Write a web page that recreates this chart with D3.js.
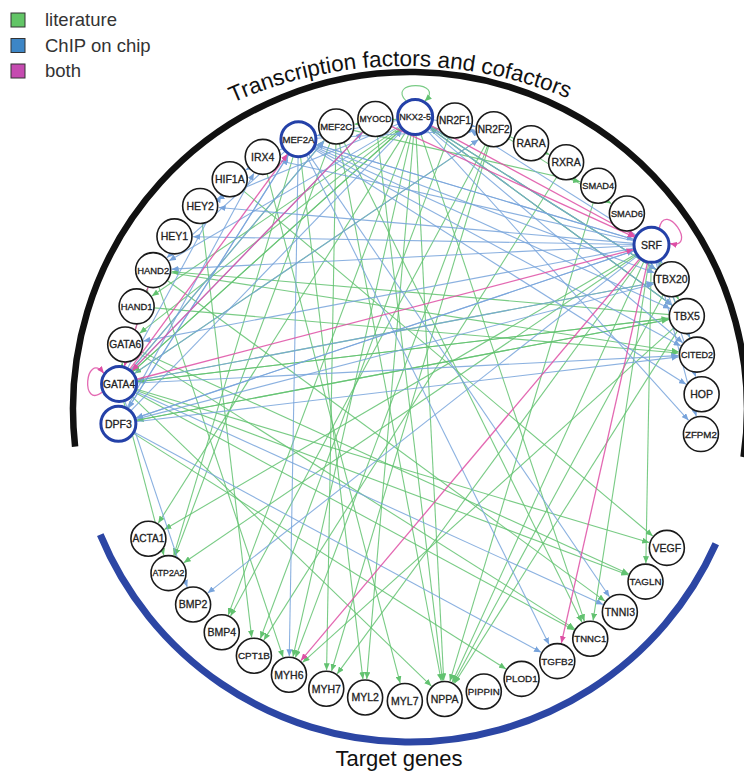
<!DOCTYPE html>
<html>
<head>
<meta charset="utf-8">
<script src="https://cdn.jsdelivr.net/npm/d3@7"></script>
<style>
  html, body { margin: 0; padding: 0; background: #fff; }
  svg { display: block; font-family: "Liberation Sans", Arial, Helvetica, sans-serif; }
</style>
</head>
<body>
<svg id="chart" width="744" height="775"></svg>
<script>
// Nodes, in clockwise order around the ring
const transcriptionFactors = ["DPF3","GATA4","GATA6","HAND1","HAND2","HEY1","HEY2","HIF1A","IRX4","MEF2A","MEF2C","MYOCD","NKX2-5","NR2F1","NR2F2","RARA","RXRA","SMAD4","SMAD6","SRF","TBX20","TBX5","CITED2","HOP","ZFPM2"];
const targetGenes = ["VEGF","TAGLN","TNNI3","TNNC1","TGFB2","PLOD1","PIPPIN","NPPA","MYL7","MYL2","MYH7","MYH6","CPT1B","BMP4","BMP2","ATP2A2","ACTA1"];
const chipProfiled = ["GATA4","DPF3","MEF2A","NKX2-5","SRF"];

// Interactions: [source, target]
const literatureEdges = [
  ["NKX2-5","NKX2-5"],
  ["NKX2-5","NPPA"],["NKX2-5","MYL2"],["NKX2-5","MYH6"],["NKX2-5","ACTA1"],
  ["NKX2-5","BMP4"],["NKX2-5","TNNC1"],["NKX2-5","GATA4"],["NKX2-5","GATA6"],["NKX2-5","HAND1"],
  ["NKX2-5","MEF2C"],["NKX2-5","TBX5"],["NKX2-5","TBX20"],
  ["GATA4","NPPA"],["GATA4","TNNC1"],["GATA4","ATP2A2"],["GATA4","TBX5"],["GATA4","NKX2-5"],
  ["GATA4","MEF2C"],["GATA4","HAND2"],["GATA4","GATA6"],["GATA4","VEGF"],["GATA4","TAGLN"],
  ["GATA6","TAGLN"],["GATA6","TNNC1"],
  ["DPF3","TBX5"],["DPF3","PLOD1"],
  ["HAND2","MYH6"],["HAND2","CITED2"],["HAND2","TNNI3"],
  ["HAND1","CITED2"],
  ["HEY2","CPT1B"],
  ["HIF1A","VEGF"],
  ["IRX4","MYL7"],
  ["MEF2A","ATP2A2"],["MEF2A","MYL2"],
  ["MEF2C","TNNC1"],["MEF2C","MYH7"],["MEF2C","ATP2A2"],["MEF2C","NPPA"],["MEF2C","SMAD4"],
  ["MYOCD","NPPA"],
  ["NR2F1","CPT1B"],
  ["NR2F2","RXRA"],["NR2F2","SMAD6"],["NR2F2","MYH7"],["NR2F2","MYH6"],["NR2F2","BMP4"],["NR2F2","GATA4"],
  ["RXRA","CPT1B"],
  ["SMAD4","NPPA"],
  ["SRF","ACTA1"],["SRF","ATP2A2"],["SRF","TNNC1"],["SRF","TAGLN"],["SRF","NPPA"],["SRF","MYH7"],
  ["SRF","CITED2"],["SRF","TBX5"],
  ["TBX5","NPPA"],["TBX5","MYH6"],["TBX5","GATA4"],["TBX5","NKX2-5"],["TBX5","HAND2"],["TBX5","DPF3"],
  ["TBX20","NPPA"],["TBX20","GATA4"],["TBX20","NKX2-5"]
];
const chipEdges = [
  ["SRF","HOP"],["SRF","ZFPM2"],["SRF","CITED2"],["SRF","TBX20"],["SRF","HAND2"],["SRF","GATA6"],
  ["SRF","HEY2"],["SRF","MEF2A"],["SRF","NR2F1"],["SRF","BMP2"],["SRF","IRX4"],["SRF","DPF3"],["SRF","HEY1"],
  ["MEF2A","MYH6"],["MEF2A","TGFB2"],["MEF2A","TBX20"],["MEF2A","TBX5"],["MEF2A","CITED2"],["MEF2A","SRF"],
  ["MEF2A","TNNI3"],["MEF2A","NR2F2"],["MEF2A","HIF1A"],["MEF2A","HAND2"],["MEF2A","HOP"],["MEF2A","DPF3"],
  ["NKX2-5","MEF2A"],["NKX2-5","TBX20"],["NKX2-5","CITED2"],["NKX2-5","ZFPM2"],["NKX2-5","HEY2"],
  ["NKX2-5","NR2F2"],["NKX2-5","TBX5"],["NKX2-5","HAND2"],
  ["GATA4","TNNI3"],["GATA4","BMP2"],["GATA4","HIF1A"],["GATA4","TBX20"],["GATA4","CITED2"],
  ["GATA4","NR2F2"],["GATA4","MYOCD"],["GATA4","MEF2C"],
  ["DPF3","CITED2"],["DPF3","TGFB2"],["DPF3","SRF"],["DPF3","TBX20"],["DPF3","NKX2-5"],["DPF3","MEF2A"],["DPF3","IRX4"]
];
const bothEdges = [
  ["GATA4","GATA4"],["SRF","SRF"],
  ["GATA4","SRF"],["NKX2-5","SRF"],["MYOCD","SRF"],["SRF","MYH6"],["SRF","TGFB2"],
  ["GATA4","MEF2A"],["HAND2","GATA4"],["MYOCD","GATA4"]
];

const legendLabels = ["literature","ChIP on chip","both"];
const edgeTypes = ["literature","chip","both"];
const edgeColors = ["#62c270","#77a3db","#de4fa5"];
const legendColors = ["#62c566","#3d86c6","#c54bb0"];

// ---- layout ----
const svg = d3.select("#chart");
const cx = 410, cy = 409, ringR = 292, nodeR = 17.5;
const rad = d => d * Math.PI / 180;

// 25 factors + 2 empty slots + 17 targets + 2 empty slots
const slotCount = transcriptionFactors.length + targetGenes.length + 4;
const slotAngle = d3.scaleLinear().domain([0, slotCount]).range([rad(177.1), rad(177.1) + 2 * Math.PI]);

const nodes = new Map();
transcriptionFactors.forEach((name, i) => nodes.set(name, { name, slot: i }));
targetGenes.forEach((name, j) => nodes.set(name, { name, slot: transcriptionFactors.length + 2 + j }));
nodes.forEach(n => {
  n.angle = slotAngle(n.slot);
  n.x = cx + ringR * Math.cos(n.angle);
  n.y = cy + ringR * Math.sin(n.angle);
  n.chip = chipProfiled.includes(n.name);
});

// ---- group arcs ----
const factorArc = d3.path();
factorArc.arc(cx, cy, 337, rad(173.6), rad(368.2));
svg.append("path").attr("d", factorArc.toString())
  .attr("fill", "none").attr("stroke", "#111").attr("stroke-width", 6.5);

const targetArc = d3.path();
targetArc.arc(cx, cy - 2, 335, rad(24.1), rad(157.6));
svg.append("path").attr("d", targetArc.toString())
  .attr("fill", "none").attr("stroke", "#2c46a4").attr("stroke-width", 7);

// ---- arrow markers ----
const defs = svg.append("defs");
edgeTypes.forEach((t, i) => {
  defs.append("marker")
    .attr("id", "arrow-" + t)
    .attr("viewBox", "0 -3 7 6")
    .attr("refX", 7).attr("refY", 0)
    .attr("markerWidth", 7).attr("markerHeight", 6)
    .attr("markerUnits", "userSpaceOnUse")
    .attr("orient", "auto")
    .append("path").attr("d", "M0,-3L7,0L0,3Z").attr("fill", edgeColors[i]);
});

// ---- edges ----
const edgeLayer = svg.append("g").attr("fill", "none");
function edgePath(s, t) {
  if (s === t) {
    // self-interaction: loop on the outer side of the node
    const a = s.angle, spread = rad(30), open = rad(40), reach = 48;
    const p0 = [s.x + nodeR * Math.cos(a - spread), s.y + nodeR * Math.sin(a - spread)];
    const p1 = [s.x + reach * Math.cos(a - open), s.y + reach * Math.sin(a - open)];
    const p2 = [s.x + reach * Math.cos(a + open), s.y + reach * Math.sin(a + open)];
    const p3 = [s.x + (nodeR + 1) * Math.cos(a + spread), s.y + (nodeR + 1) * Math.sin(a + spread)];
    const p = d3.path();
    p.moveTo(...p0); p.bezierCurveTo(...p1, ...p2, ...p3);
    return p.toString();
  }
  const dx = t.x - s.x, dy = t.y - s.y, len = Math.hypot(dx, dy);
  const ux = dx / len, uy = dy / len;
  const p = d3.path();
  p.moveTo(s.x + ux * nodeR, s.y + uy * nodeR);
  p.lineTo(t.x - ux * (nodeR + 1), t.y - uy * (nodeR + 1));
  return p.toString();
}
[literatureEdges, chipEdges, bothEdges].forEach((list, i) => {
  edgeLayer.selectAll(null)
    .data(list)
    .join("path")
    .attr("d", d => edgePath(nodes.get(d[0]), nodes.get(d[1])))
    .attr("stroke", edgeColors[i])
    .attr("stroke-width", i === 2 ? 1.3 : 1.1)
    .attr("stroke-opacity", 0.85)
    .attr("marker-end", `url(#arrow-${edgeTypes[i]})`);
});

// ---- nodes ----
const nodeG = svg.append("g").selectAll("g")
  .data([...nodes.values()])
  .join("g")
  .attr("transform", d => `translate(${d.x},${d.y})`);
nodeG.append("circle")
  .attr("r", nodeR)
  .attr("fill", "#fff")
  .attr("stroke", d => d.chip ? "#2441a8" : "#1a1a1a")
  .attr("stroke-width", d => d.chip ? 3 : 1.6);
nodeG.append("text")
  .attr("text-anchor", "middle")
  .attr("dy", "0.36em")
  .attr("font-size", 10.5)
  .attr("fill", "#222")
  .attr("stroke", "#222")
  .attr("stroke-width", 0.3)
  .text(d => d.name)
  .each(function () {
    // keep long names inside their circle
    const w = this.getComputedTextLength();
    const maxW = 32;
    if (w > maxW) d3.select(this).attr("font-size", 10.5 * maxW / w);
  });

// ---- group titles ----
const titlePath = d3.path();
titlePath.arc(405, 489, 423, rad(224.3), rad(314.3));
defs.append("path").attr("id", "factor-title-path").attr("d", titlePath.toString());
svg.append("text")
  .attr("font-size", 22.5).attr("fill", "#111")
  .append("textPath")
  .attr("href", "#factor-title-path")
  .attr("startOffset", "50%")
  .attr("text-anchor", "middle")
  .text("Transcription factors and cofactors");

svg.append("text")
  .attr("x", 399).attr("y", 766)
  .attr("text-anchor", "middle")
  .attr("font-size", 22).attr("fill", "#111")
  .text("Target genes");

// ---- legend ----
const legend = svg.append("g").selectAll("g")
  .data(legendLabels)
  .join("g")
  .attr("transform", (d, i) => `translate(11, ${13 + i * 25.5})`);
legend.append("rect")
  .attr("width", 14).attr("height", 14)
  .attr("fill", (d, i) => legendColors[i])
  .attr("stroke", "#333").attr("stroke-width", 1);
legend.append("text")
  .attr("x", 34).attr("y", 13)
  .attr("font-size", 18.5).attr("fill", "#333")
  .text(d => d);
</script>
</body>
</html>
